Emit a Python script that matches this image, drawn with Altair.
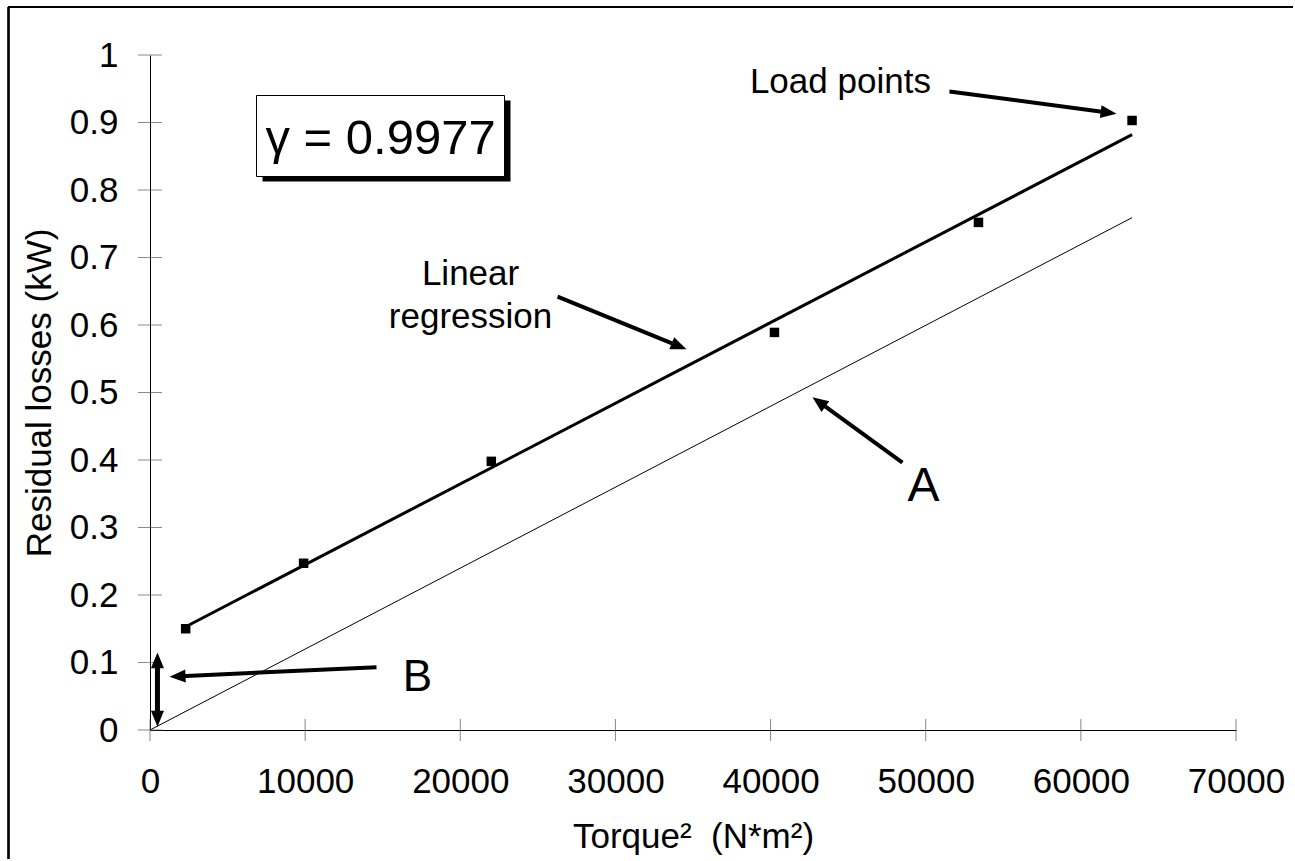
import math
import altair as alt
import pandas as pd

# ---------------- data ----------------
torque_sq = [2300, 9900, 22000, 40250, 53400, 63300]
losses = [0.150, 0.247, 0.398, 0.589, 0.752, 0.903]

regression_x = [2300, 63300]
regression_y = [0.153, 0.882]
line_a_x = [0, 63300]
line_a_y = [0.0, 0.759]

x_ticks = [0, 10000, 20000, 30000, 40000, 50000, 60000, 70000]
y_ticks = [0, 0.1, 0.2, 0.3, 0.4, 0.5, 0.6, 0.7, 0.8, 0.9, 1.0]

arrow_tail_x = [51530, 26270, 48500, 14600]
arrow_tail_y = [0.946, 0.642, 0.396, 0.093]
arrow_tip_x = [62300, 34580, 42700, 1260]
arrow_tip_y = [0.913, 0.564, 0.493, 0.079]

b_span_x = 480
b_span_y = [0.005, 0.115]

label_text = ["Load points", "Linear", "regression", "A", "B"]
label_x = [44500, 20660, 20660, 49860, 17240]
label_y = [0.944, 0.660, 0.596, 0.339, 0.0585]
label_size = [35, 35, 35, 48, 44]

gamma_text = "γ = 0.9977"
gamma_box_x = [6865, 22850]
gamma_box_y = [0.820, 0.940]
gamma_text_x = 14860
gamma_text_y = 0.853

# ---------------- layout ----------------
W, H = 1086, 675
X_MAX, Y_MAX = 70000, 1.0
FONT = "Liberation Sans"
HEAD_PATH = "M0,0L0.45,1.1L-0.45,1.1Z"
HEAD_SIZE = 841
HEAD_BACK = 11


def arrow_geometry(tx, ty, hx, hy):
    dx = (hx - tx) * W / X_MAX
    dy = -(hy - ty) * H / Y_MAX
    L = math.hypot(dx, dy)
    ang = math.degrees(math.atan2(dx, -dy)) % 360
    ex = hx - (dx / L * HEAD_BACK) * X_MAX / W
    ey = hy + (dy / L * HEAD_BACK) * Y_MAX / H
    return ex, ey, ang


shafts = []
heads = []
for tx, ty, hx, hy in zip(arrow_tail_x, arrow_tail_y, arrow_tip_x, arrow_tip_y):
    ex, ey, ang = arrow_geometry(tx, ty, hx, hy)
    shafts.append({"x": tx, "y": ty, "x2": ex, "y2": ey, "w": 4})
    heads.append({"x": hx, "y": hy, "angle": ang})

# double arrow (B)
lo, hi = b_span_y
back_y = HEAD_BACK * Y_MAX / H
shafts.append({"x": b_span_x, "y": lo + back_y, "x2": b_span_x, "y2": hi - back_y, "w": 5})
heads.append({"x": b_span_x, "y": hi, "angle": 0.0})
heads.append({"x": b_span_x, "y": lo, "angle": 180.0})

points_df = pd.DataFrame({"x": torque_sq, "y": losses})
reg_df = pd.DataFrame({"x": regression_x, "y": regression_y})
a_df = pd.DataFrame({"x": line_a_x, "y": line_a_y})
xt_df = pd.DataFrame({"x": x_ticks})
yt_df = pd.DataFrame({"y": y_ticks})
shaft_df = pd.DataFrame(shafts)
head_df = pd.DataFrame(heads)
label_df = pd.DataFrame({"t": label_text, "x": label_x, "y": label_y, "s": label_size})
box_df = pd.DataFrame({"x": [gamma_box_x[0]], "x2": [gamma_box_x[1]],
                       "y": [gamma_box_y[0]], "y2": [gamma_box_y[1]]})
gtext_df = pd.DataFrame({"t": [gamma_text], "x": [gamma_text_x], "y": [gamma_text_y]})

xscale = alt.Scale(domain=[0, X_MAX], nice=False, zero=False)
yscale = alt.Scale(domain=[0, Y_MAX], nice=False, zero=False)

xaxis = alt.Axis(values=x_ticks, format="d", grid=False, ticks=False, tickSize=0,
                 labelFlush=False, labelOverlap=False,
                 labelPadding=34, labelFontSize=35, labelFont=FONT, labelColor="black",
                 domainColor="black", domainWidth=1,
                 title="Torque²\u00a0\u00a0(N*m²)", titleFont=FONT, titleFontSize=35,
                 titleFontWeight="normal", titleColor="black",
                 titleBaseline="alphabetic", titleY=117, titleX=W / 2)
yaxis = alt.Axis(values=y_ticks, format="~g", grid=False, ticks=False, tickSize=0,
                 labelFlush=False, labelOverlap=False,
                 labelPadding=32, labelFontSize=35, labelFont=FONT, labelColor="black",
                 domainColor="black", domainWidth=1,
                 title="Residual losses (kW)", titleFont=FONT, titleFontSize=35,
                 titleFontWeight="normal", titleColor="black", titleAngle=270,
                 titleBaseline="alphabetic", titleX=-100, titleY=H / 2, titleAlign="center")

X = alt.X("x:Q", scale=xscale, axis=xaxis)
Y = alt.Y("y:Q", scale=yscale, axis=yaxis)

# outer frame: only its left and top edges fall inside the picture
frame_left = alt.Chart(points_df).mark_rule(color="black", strokeWidth=1.5).encode(
    x=alt.value(-141.5), y=alt.value(-48), y2=alt.value(H + 300))
frame_top = alt.Chart(points_df).mark_rule(color="black", strokeWidth=1.5).encode(
    x=alt.value(-141.5), x2=alt.value(W + 300), y=alt.value(-48))

line_a = alt.Chart(a_df).mark_line(color="black", strokeWidth=1).encode(x=X, y=Y)
reg_line = alt.Chart(reg_df).mark_line(color="black", strokeWidth=3).encode(x=X, y=Y)
pts = alt.Chart(points_df).mark_square(color="black", size=90, opacity=1).encode(x=X, y=Y)

ytick = alt.Chart(yt_df).mark_tick(orient="horizontal", size=24, thickness=1,
                                   color="#555").encode(y=Y, x=alt.value(0))
xtick = alt.Chart(xt_df).mark_tick(orient="vertical", size=22, thickness=1,
                                   color="#555").encode(x=X, y=alt.value(H))

shadow = alt.Chart(box_df).mark_rect(fill="black", xOffset=6, x2Offset=6,
                                     yOffset=5, y2Offset=5).encode(
    x=X, x2="x2:Q", y=Y, y2="y2:Q")
box = alt.Chart(box_df).mark_rect(fill="white", stroke="black", strokeWidth=1).encode(
    x=X, x2="x2:Q", y=Y, y2="y2:Q")
gtext = alt.Chart(gtext_df).mark_text(font=FONT, fontSize=49, align="center",
                                      baseline="alphabetic", color="black").encode(
    x=X, y=Y, text="t:N")

shaft = alt.Chart(shaft_df).mark_rule(color="black", strokeCap="butt").encode(
    x=X, y=Y, x2="x2:Q", y2="y2:Q", strokeWidth=alt.StrokeWidth("w:Q", scale=None, legend=None))
head = alt.Chart(head_df).mark_point(shape=HEAD_PATH, filled=True, color="black",
                                     opacity=1, strokeWidth=0).encode(
    x=X, y=Y, angle=alt.Angle("angle:Q", scale=None), size=alt.value(HEAD_SIZE))

labels = alt.Chart(label_df).mark_text(font=FONT, align="center", baseline="alphabetic",
                                       color="black").encode(
    x=X, y=Y, text="t:N", size=alt.Size("s:Q", scale=None, legend=None))

chart = alt.layer(frame_left, frame_top, line_a, reg_line, pts, ytick, xtick, shadow, box,
                  gtext, shaft, head, labels).properties(
    width=W, height=H,
    padding={"left": 150, "top": 55, "right": 57, "bottom": 129},
    autosize=alt.AutoSizeParams(type="none"),
    background="white",
).configure_view(stroke=None)

chart.save("out.html", embed_options={"renderer": "svg", "actions": False})
